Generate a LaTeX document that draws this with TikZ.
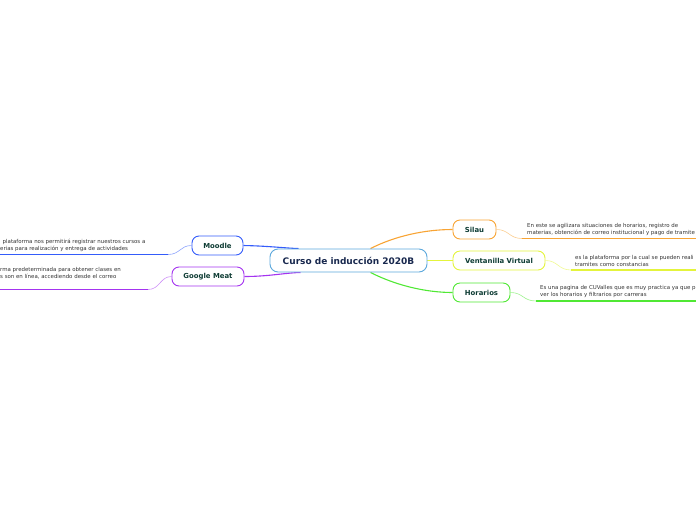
\documentclass[tikz,border=0pt]{standalone}
\usepackage{fontspec}
\usepackage{tikz}
\usetikzlibrary{backgrounds}
\newfontfamily\mapfont{DejaVu Sans}
\definecolor{rootline}{RGB}{92,168,220}
\definecolor{roottext}{RGB}{24,40,78}
\definecolor{labeltext}{RGB}{14,60,52}
\definecolor{desctext}{RGB}{50,50,50}
\definecolor{moodlec}{RGB}{52,92,250}
\definecolor{meetc}{RGB}{164,52,240}
\definecolor{silauc}{RGB}{248,164,52}
\definecolor{ventc}{RGB}{228,244,60}
\definecolor{horac}{RGB}{80,232,52}

\begin{document}
\begin{tikzpicture}[
    x=1pt,y=-1pt,
    root/.style={draw=rootline,line width=0.9pt,rounded corners=8pt,fill=white,
      minimum width=157pt,minimum height=23pt,inner sep=0pt,
      font=\mapfont\bfseries\fontsize{9}{10}\selectfont,text=roottext},
    branch/.style={draw=#1,line width=0.9pt,rounded corners=7pt,fill=white,
      minimum height=19pt,inner sep=0pt,
      font=\mapfont\bfseries\fontsize{6.9}{8}\selectfont,text=labeltext},
    desc/.style={align=left,inner sep=0pt,text=desctext,
      font=\mapfont\fontsize{5.45}{7}\selectfont},
    link/.style={draw=#1,line width=1.1pt},
    twig/.style={draw=#1!55,line width=0.6pt},
    underline/.style={draw=#1,line width=1.5pt}
  ]
    \useasboundingbox (0,0) rectangle (696,520);
    \clip (0,0) rectangle (696,520);

    \node[root] (center) at (348.5,260.5) {Curso de inducción 2020B};

    \node[branch=moodlec,minimum width=51pt] (moodle) at (217.5,245.5) {Moodle};
    \node[branch=meetc,minimum width=72pt] (meet) at (208,276.5) {Google Meat};
    \node[branch=silauc,minimum width=43pt] (silau) at (474.5,229.5) {Silau};
    \node[branch=ventc,minimum width=92pt] (vent) at (499,260.5) {Ventanilla Virtual};
    \node[branch=horac,minimum width=57pt] (hora) at (481.5,292.5) {Horarios};

    % descriptions
    \node[desc,anchor=west] (moodledesc) at (0,245.5)
      {\hspace*{2.5pt}plataforma nos permitirá registrar nuestros cursos a\\erias para realización y entrega de actividades};
    \node[desc,anchor=west] (meetdesc) at (0,273.5)
      {rma predeterminada para obtener clases en\\s son en línea, accediendo desde el correo};
    \node[desc,anchor=west] (silaudesc) at (527,229.5)
      {En este se agilizara situaciones de horarios, registro de\\materias, obtención de correo institucional y pago de tramite};
    \node[desc,anchor=west] (ventdesc) at (575,260.5)
      {es la plataforma por la cual se pueden reali\\tramites como constancias};
    \node[desc,anchor=west] (horadesc) at (540,291.5)
      {Es una pagina de CUValles que es muy practica ya que p\\ver los horarios y filtrarios por carreras};

    \coordinate (moodleul) at (168,254.5);
    \coordinate (moodleur) at (-5,254.5);
    \coordinate (meetul) at (148,289.5);
    \coordinate (meetur) at (-5,289.5);
    \coordinate (silauul) at (522,238.5);
    \coordinate (silauur) at (700,238.5);
    \coordinate (ventul) at (571,270);
    \coordinate (ventur) at (700,270);
    \coordinate (horaul) at (536,301);
    \coordinate (horaur) at (700,301);

    \begin{scope}[on background layer]
      \draw[link=moodlec] (moodle.east) .. controls (268,246) and (284,248) .. ([xshift=-50pt]center.north);
      \draw[link=meetc] (meet.east) .. controls (268,276.5) and (284,273) .. ([xshift=-48pt]center.south);
      \draw[link=silauc] ([xshift=22pt]center.north) .. controls (395,236) and (425,229.5) .. (silau.west);
      \draw[link=ventc] (center.east) -- (vent.west);
      \draw[link=horac] ([xshift=22pt]center.south) .. controls (395,285) and (425,292.5) .. (hora.west);
    \end{scope}

    \draw[twig=moodlec] (moodle.west) .. controls (180,245.5) and (180,254.5) .. (moodleul);
    \draw[underline=moodlec] (moodleul) -- (moodleur);
    \draw[twig=meetc] (meet.west) .. controls (160,276.5) and (160,289.5) .. (meetul);
    \draw[underline=meetc] (meetul) -- (meetur);
    \draw[twig=silauc] (silau.east) .. controls (509,229.5) and (509,238.5) .. (silauul);
    \draw[underline=silauc] (silauul) -- (silauur);
    \draw[twig=ventc] (vent.east) .. controls (558,260.5) and (558,270) .. (ventul);
    \draw[underline=ventc] (ventul) -- (ventur);
    \draw[twig=horac] (hora.east) .. controls (523,292.5) and (523,301) .. (horaul);
    \draw[underline=horac] (horaul) -- (horaur);
  \end{tikzpicture}
\end{document}
